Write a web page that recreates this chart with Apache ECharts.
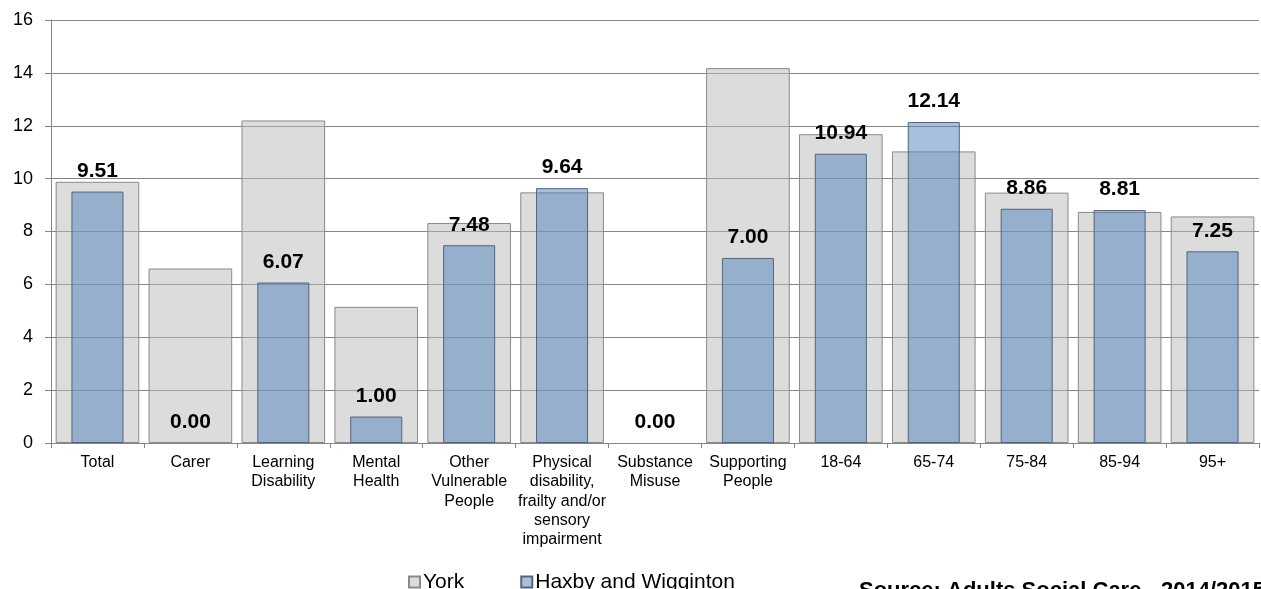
<!DOCTYPE html>
<html>
<head>
<meta charset="utf-8">
<script src="https://cdn.jsdelivr.net/npm/echarts@6/dist/echarts.min.js"></script>
<style>
html,body{margin:0;padding:0;background:#fff;}
#chart{width:1261px;height:589px;}
</style>
</head>
<body>
<div id="chart"></div>
<script>
var categories = ['Total', 'Carer', 'Learning\nDisability', 'Mental\nHealth', 'Other\nVulnerable\nPeople', 'Physical\ndisability,\nfrailty and/or\nsensory\nimpairment', 'Substance\nMisuse', 'Supporting\nPeople', '18-64', '65-74', '75-84', '85-94', '95+'];
var yorkValues = [9.88, 6.6, 12.2, 5.15, 8.32, 9.48, 0, 14.18, 11.68, 11.03, 9.47, 8.74, 8.57];
var haxbyValues = [9.51, 0.00, 6.07, 1.00, 7.48, 9.64, 0.00, 7.00, 10.94, 12.14, 8.86, 8.81, 7.25];
var yTicks = {min: 0, max: 16, interval: 2};
var sourceText = 'Source: Adults Social Care - 2014/2015';

function items(vals) {
  return vals.map(function (v) {
    return v === 0 ? {value: v, itemStyle: {borderWidth: 0}} : v;
  });
}

var chart = echarts.init(document.getElementById('chart'), null, {renderer: 'canvas'});
var font = '"Liberation Sans", Arial, sans-serif';
var gridColor = '#868686';
chart.setOption({
  animation: false,
  backgroundColor: '#ffffff',
  textStyle: {fontFamily: font},
  grid: {left: 51, right: 2, top: 20, bottom: 146, containLabel: false},
  legend: {
    left: 403, top: 566,
    itemWidth: 11, itemHeight: 11, itemGap: 56,
    icon: 'rect',
    textStyle: {fontSize: 21, color: '#000', fontFamily: font, lineHeight: 22, padding: [0, 0, 0, -2]},
    data: ['York', 'Haxby and Wigginton']
  },
  xAxis: [{
    type: 'category', data: categories, boundaryGap: true,
    axisLine: {show: true, lineStyle: {color: gridColor, width: 1}},
    axisTick: {show: true, length: 5, alignWithLabel: false, lineStyle: {color: gridColor}},
    axisLabel: {interval: 0, margin: 10, fontSize: 16, lineHeight: 19.3, color: '#000', fontFamily: font, align: 'center'}
  }, {
    type: 'category', data: categories, boundaryGap: true, show: false, position: 'bottom'
  }],
  yAxis: {
    type: 'value', min: yTicks.min, max: yTicks.max, interval: yTicks.interval,
    axisLine: {show: true, lineStyle: {color: gridColor, width: 1}},
    axisTick: {show: true, length: 6, lineStyle: {color: gridColor}},
    axisLabel: {fontSize: 18, color: '#000', margin: 18, fontFamily: font},
    splitLine: {show: true, lineStyle: {color: gridColor, width: 1}}
  },
  series: [{
    name: 'York', type: 'bar', xAxisIndex: 0, data: items(yorkValues), barWidth: '90%',
    itemStyle: {color: 'rgba(185,185,185,0.5)', borderColor: '#8a8a8a', borderWidth: 1},
    z: 2
  }, {
    name: 'Haxby and Wigginton', type: 'bar', xAxisIndex: 1, data: items(haxbyValues), barWidth: '56%',
    itemStyle: {color: 'rgba(79,129,189,0.5)', borderColor: '#56647a', borderWidth: 1},
    label: {
      show: true, position: 'top', distance: 10,
      fontSize: 21, fontWeight: 'bold', color: '#000', fontFamily: font,
      formatter: function (p) { return Number(p.value).toFixed(2); }
    },
    z: 3
  }],
  graphic: [{
    type: 'text', left: 859, top: 580,
    style: {text: sourceText, font: 'bold 22px "Liberation Sans", Arial, sans-serif', fill: '#000'}
  }]
});
</script>
</body>
</html>
